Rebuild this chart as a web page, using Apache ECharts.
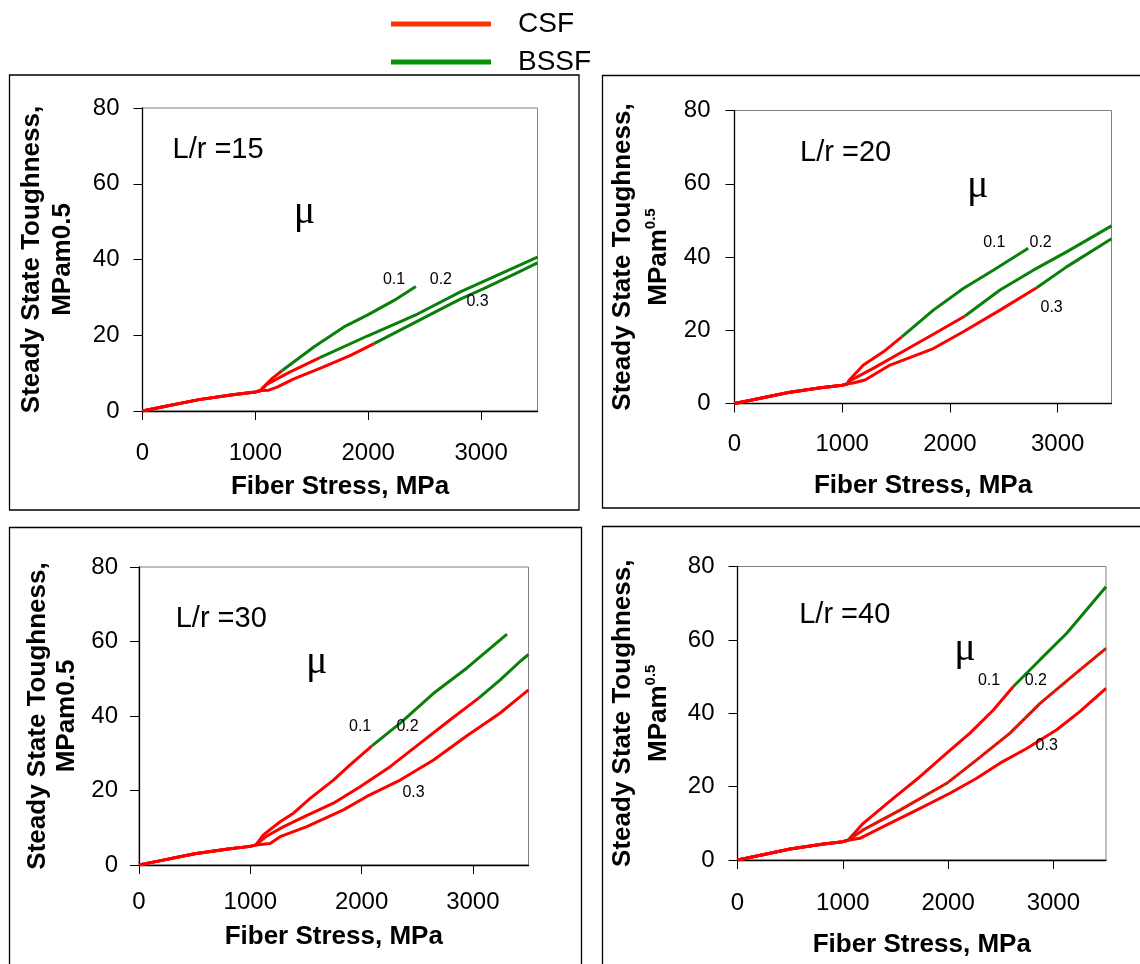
<!DOCTYPE html>
<html>
<head>
<meta charset="utf-8">
<script src="https://cdn.jsdelivr.net/npm/echarts@6/dist/echarts.min.js"></script>
<style>
  html, body { margin: 0; padding: 0; background: #fff; }
  #chart { width: 1140px; height: 964px; }
</style>
</head>
<body>
<div id="chart"></div>
<script>
// ---------- data ----------
const xTickValues = [0, 1000, 2000, 3000];
const yTickValues = [0, 20, 40, 60, 80];
const legendNames = ['CSF', 'BSSF'];
const muLabels = ['0.1', '0.2', '0.3'];
const panelTitles = ['L/r =15', 'L/r =20', 'L/r =30', 'L/r =40'];

// common initial (pre-debond) segment, Fiber Stress (MPa) vs toughness
const base = [[0, 0], [150, 0.9], [500, 3.0], [800, 4.3], [1000, 5.0], [1050, 5.4]];

// L/r = 15
const p15_csf_01  = [[1060, 6.0], [1150, 8.6], [1238, 10.7]];
const p15_bssf_01 = [[1238, 10.7], [1518, 16.9], [1785, 22.2], [1992, 25.3], [2229, 29.2], [2422, 32.9]];
const p15_csf_02  = [[1100, 7.0], [1300, 10.2], [1572, 14.1]];
const p15_bssf_02 = [[1572, 14.1], [1992, 19.8], [2437, 25.6], [2821, 31.5], [3200, 36.6], [3500, 40.6]];
const p15_csf_03  = [[1119, 5.5], [1193, 6.3], [1341, 8.5], [1578, 11.3], [1844, 14.7], [2051, 17.8]];
const p15_bssf_03 = [[2051, 17.8], [2377, 22.8], [2703, 27.8], [2821, 29.6], [3028, 32.4], [3300, 36.2], [3500, 39.1]];

// L/r = 20
const p20_csf_01  = [[1060, 6.2], [1197, 10.5], [1382, 14.1], [1553, 18.2]];
const p20_bssf_01 = [[1553, 18.2], [1846, 25.5], [2124, 31.4], [2402, 36.4], [2727, 42.4]];
const p20_csf_02  = [[1060, 6.0], [1300, 9.8], [1600, 14.8], [1846, 18.9], [2140, 23.9]];
const p20_bssf_02 = [[2140, 23.9], [2465, 31.0], [2774, 36.4], [3083, 41.4], [3500, 48.5]];
const p20_csf_03  = [[1100, 5.6], [1212, 6.4], [1444, 10.5], [1846, 15.0], [2124, 19.6], [2465, 25.5], [2805, 31.6]];
const p20_bssf_03 = [[2805, 31.6], [3083, 37.3], [3500, 45.0]];

// L/r = 30
const p30_csf_01  = [[1118, 8.1], [1268, 11.6], [1388, 13.9], [1538, 17.9], [1747, 22.8], [1897, 26.9], [2093, 32.0]];
const p30_bssf_01 = [[2093, 32.0], [2347, 38.1], [2647, 46.1], [2947, 52.9], [3307, 62.0]];
const p30_csf_02  = [[1150, 7.8], [1300, 10.3], [1500, 13.2], [1747, 16.6], [1987, 21.0], [2257, 26.4], [2527, 32.7], [2797, 39.0], [3052, 44.8]];
const p30_bssf_02 = [[3052, 44.8], [3246, 49.7], [3426, 54.7], [3500, 56.5]];
const p30_csf_03  = [[1178, 5.8], [1268, 7.6], [1508, 10.3], [1837, 14.8], [2047, 18.4], [2347, 22.8], [2647, 28.2], [2947, 34.7], [3246, 40.8], [3426, 45.2], [3500, 47.0]];
const p30_bssf_03 = [];

// L/r = 40
const p40_csf_01  = [[1194, 10.0], [1479, 16.8], [1733, 22.7], [1987, 29.1], [2208, 34.6], [2430, 40.9], [2620, 47.3]];
const p40_bssf_01 = [[2620, 47.3], [2874, 54.6], [3127, 61.8], [3500, 74.5]];
const p40_csf_02  = [[1194, 8.2], [1543, 13.6], [1987, 20.9], [2272, 27.3], [2588, 34.6], [2874, 42.7], [3190, 50.3], [3500, 57.7]];
const p40_bssf_02 = [[1050, 5.4], [1194, 8.2], [1543, 13.6], [1987, 20.9], [2272, 27.3], [2588, 34.6], [2874, 42.7], [3190, 50.3], [3500, 57.7]];
const p40_csf_03  = [[1163, 5.9], [1384, 9.1], [1701, 13.6], [2018, 18.2], [2272, 22.3], [2493, 26.4], [2747, 30.4], [3032, 35.5], [3254, 40.5], [3500, 46.8]];
const p40_bssf_03 = [];

// annotation anchors in data coordinates: [x, y]
const titlePos = [[266, 69], [609, 68.5], [330, 66.1], [586, 66.8]];
const muPos    = [[1436, 52.5], [2258, 59.2], [1598, 54.4], [2161, 57.3]];
const muLabelPos = [
  [[2229, 34.7], [2644, 34.7], [2969, 28.9]],
  [[2412, 44.0], [2842, 44.0], [2944, 26.2]],
  [[1987, 37.2], [2413, 37.2], [2467, 19.4]],
  [[2389, 48.9], [2833, 48.9], [2937, 31.1]]
];

const panelData = [
  { csf: [p15_csf_01, p15_csf_02, p15_csf_03], bssf: [p15_bssf_01, p15_bssf_02, p15_bssf_03] },
  { csf: [p20_csf_01, p20_csf_02, p20_csf_03], bssf: [p20_bssf_01, p20_bssf_02, p20_bssf_03] },
  { csf: [p30_csf_01, p30_csf_02, p30_csf_03], bssf: [p30_bssf_01, p30_bssf_02, p30_bssf_03] },
  { csf: [p40_csf_01, p40_csf_02, p40_csf_03], bssf: [p40_bssf_01, p40_bssf_02, p40_bssf_03] }
];

// ---------- layout / style ----------
const FONT = '"Liberation Sans", Arial, sans-serif';
const SERIF = '"Liberation Serif", "DejaVu Serif", serif';
const RED = '#ff0000';
const GREEN = '#0a800a';

const grids = [
  { left: 142.5, top: 108, width: 395, height: 303 },
  { left: 734.5, top: 110.5, width: 377, height: 293 },
  { left: 139, top: 567, width: 389.5, height: 298 },
  { left: 737.5, top: 566.5, width: 368.5, height: 293.5 }
];
const panelStyle = [
  { yGap: 64, xGap: 63, xMargin: 30, yMargin: 23, sup: false, lh: 31 },
  { yGap: 55, xGap: 69, xMargin: 29, yMargin: 24, sup: true,  lh: 31 },
  { yGap: 58, xGap: 59, xMargin: 25, yMargin: 21, sup: false, lh: 29 },
  { yGap: 58, xGap: 72, xMargin: 31, yMargin: 23, sup: true,  lh: 31 }
];

const option = {
  animation: false,
  backgroundColor: '#fff',
  legend: {
    orient: 'vertical',
    left: 391, top: 9, padding: 0,
    itemWidth: 100, itemHeight: 5, itemGap: 8,
    icon: 'rect',
    selectedMode: false,
    textStyle: { fontFamily: FONT, fontSize: 28, lineHeight: 30, color: '#000', padding: [0, 0, 0, 22] },
    data: [
      { name: legendNames[0], itemStyle: { color: '#ff3300' } },
      { name: legendNames[1], itemStyle: { color: '#079307' } }
    ]
  },
  graphic: [
    { type: 'rect', shape: { x: 9.5, y: 75, width: 569.5, height: 435 }, style: { fill: 'none', stroke: '#000', lineWidth: 1.3 }, z: -10 },
    { type: 'rect', shape: { x: 602.5, y: 75.5, width: 600, height: 432.5 }, style: { fill: 'none', stroke: '#000', lineWidth: 1.3 }, z: -10 },
    { type: 'rect', shape: { x: 9.5, y: 527.5, width: 572, height: 500 }, style: { fill: 'none', stroke: '#000', lineWidth: 1.3 }, z: -10 },
    { type: 'rect', shape: { x: 602.5, y: 526.5, width: 600, height: 500 }, style: { fill: 'none', stroke: '#000', lineWidth: 1.3 }, z: -10 }
  ],
  grid: grids.map(g => Object.assign({ show: true, borderColor: '#808080', borderWidth: 1, backgroundColor: 'transparent' }, g)),
  xAxis: [],
  yAxis: [],
  series: []
};

grids.forEach((g, i) => {
  const ps = panelStyle[i];
  option.xAxis.push({
    type: 'value', gridIndex: i, min: 0, max: 3500, interval: 1000,
    name: 'Fiber Stress, MPa', nameLocation: 'middle', nameGap: ps.xGap,
    nameTextStyle: { fontFamily: FONT, fontSize: 26, fontWeight: 'bold', color: '#000' },
    axisLine: { show: true, onZero: false, lineStyle: { color: '#000', width: 1.3 } },
    axisTick: { show: true, inside: false, length: 9, customValues: xTickValues, lineStyle: { color: '#000', width: 1 } },
    axisLabel: { show: true, margin: ps.xMargin, customValues: xTickValues, formatter: v => String(v),
                 fontFamily: FONT, fontSize: 24, color: '#000' },
    splitLine: { show: false }
  });
  const yName = ps.sup
    ? '{a|Steady State Toughness,}\n{b|MPam}{s|0.5}'
    : '{a|Steady State Toughness,}\n{a|MPam0.5}';
  option.yAxis.push({
    type: 'value', gridIndex: i, min: 0, max: 80, interval: 20,
    name: yName, nameLocation: 'middle', nameGap: ps.yGap, nameRotate: 90,
    nameTextStyle: {
      fontFamily: FONT, fontSize: 26, fontWeight: 'bold', color: '#000', align: 'center',
      rich: {
        a: { fontFamily: FONT, fontSize: 26, fontWeight: 'bold', color: '#000', lineHeight: ps.lh },
        b: { fontFamily: FONT, fontSize: 26, fontWeight: 'bold', color: '#000', lineHeight: 41 },
        s: { fontFamily: FONT, fontSize: 15, fontWeight: 'bold', color: '#000', lineHeight: 17, padding: [0, 0, 16, 0] }
      }
    },
    axisLine: { show: true, onZero: false, lineStyle: { color: '#000', width: 1.3 } },
    axisTick: { show: true, inside: false, length: 9, customValues: yTickValues, lineStyle: { color: '#000', width: 1 } },
    axisLabel: { show: true, margin: ps.yMargin, customValues: yTickValues, formatter: v => String(v),
                 fontFamily: FONT, fontSize: 24, color: '#000' },
    splitLine: { show: false }
  });

  const pd = panelData[i];
  for (let m = 0; m < 3; m++) {
    option.series.push({
      name: legendNames[0], type: 'line', xAxisIndex: i, yAxisIndex: i,
      data: base.concat(pd.csf[m]), showSymbol: false, symbol: 'none',
      lineStyle: { color: RED, width: 3 }, itemStyle: { color: RED }, z: 3
    });
  }
  for (let m = 0; m < 3; m++) {
    if (!pd.bssf[m].length) continue;
    const overlay = (i === 3 && m === 1);
    option.series.push({
      name: legendNames[1], type: 'line', xAxisIndex: i, yAxisIndex: i,
      data: pd.bssf[m], showSymbol: false, symbol: 'none',
      lineStyle: overlay ? { color: '#3c7a10', width: 1.2, type: [2, 3] } : { color: GREEN, width: 3 },
      itemStyle: { color: GREEN }, z: overlay ? 5 : 4
    });
  }

  // text annotations positioned by data coordinates
  const lbl = (text, align, size, family) => ({
    formatter: text, align: align, fontSize: size, fontFamily: family,
    color: '#000', opacity: 1, textBorderWidth: 0
  });
  const ann = [];
  ann.push({ value: titlePos[i], label: lbl(panelTitles[i], 'left', 29, FONT) });
  ann.push({ value: muPos[i], label: lbl('\u03bc', 'center', 40, SERIF) });
  muLabelPos[i].forEach((p, k) => {
    ann.push({ value: p, label: lbl(muLabels[k], 'center', 16, FONT) });
  });
  option.series.push({
    name: 'annotations', type: 'scatter', xAxisIndex: i, yAxisIndex: i,
    symbolSize: 0, silent: true, z: 6,
    itemStyle: { opacity: 1 },
    label: { show: true, position: [0, 0], verticalAlign: 'middle', color: '#000', opacity: 1 },
    data: ann
  });
});

const chart = echarts.init(document.getElementById('chart'), null, { renderer: 'canvas' });
chart.setOption(option);
</script>
</body>
</html>
